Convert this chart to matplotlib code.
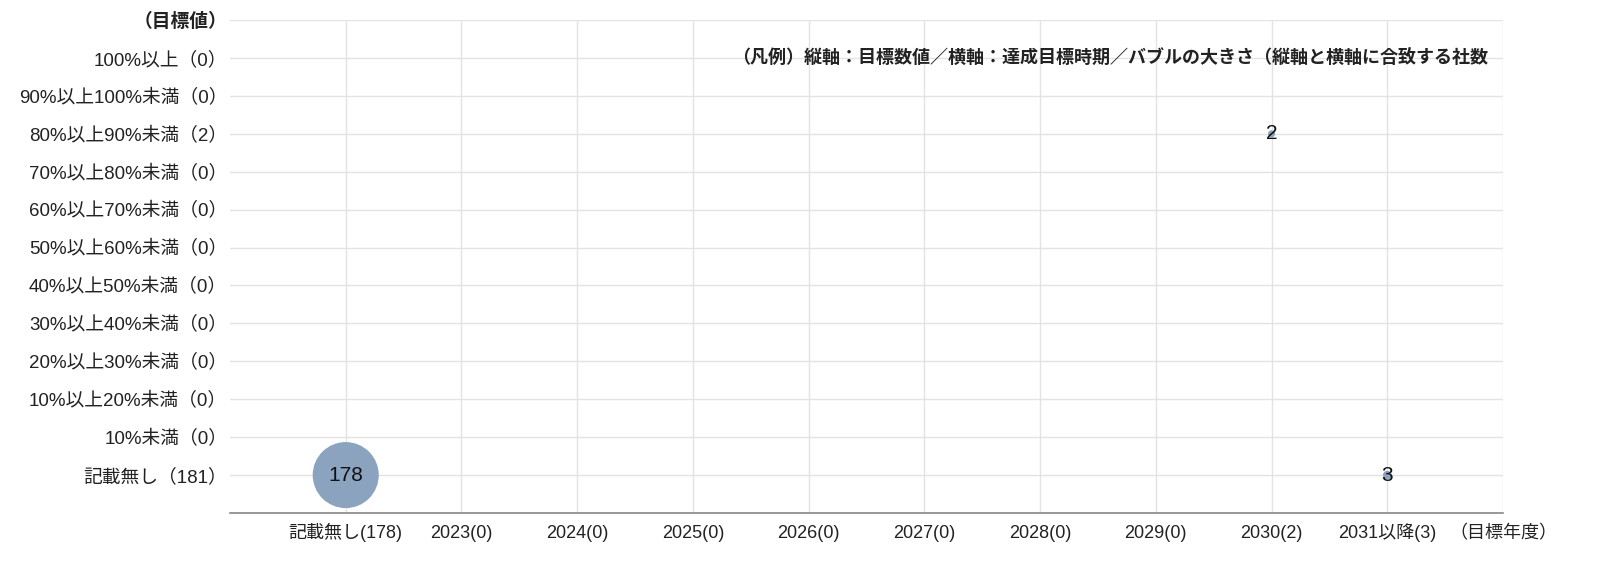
import matplotlib
matplotlib.use('Agg')
import matplotlib.pyplot as plt

plt.rcParams['font.family'] = ['Liberation Sans', 'Noto Sans CJK JP', 'DejaVu Sans']

# categories
y_labels = ['記載無し（181）', '10%未満（0）', '10%以上20%未満（0）', '20%以上30%未満（0）',
            '30%以上40%未満（0）', '40%以上50%未満（0）', '50%以上60%未満（0）',
            '60%以上70%未満（0）', '70%以上80%未満（0）', '80%以上90%未満（2）',
            '90%以上100%未満（0）', '100%以上（0）']
x_labels = ['記載無し(178)', '2023(0)', '2024(0)', '2025(0)', '2026(0)', '2027(0)',
            '2028(0)', '2029(0)', '2030(2)', '2031以降(3)']

# bubbles
bubble_x = ['記載無し(178)', '2030(2)', '2031以降(3)']
bubble_y = ['記載無し（181）', '80%以上90%未満（2）', '記載無し（181）']
bubble_n = [178, 2, 3]

legend_text = '（凡例）縦軸：目標数値／横軸：達成目標時期／バブルの大きさ（縦軸と横軸に合致する社数'

fig = plt.figure(figsize=(16, 5.64), dpi=100)
ax = fig.add_axes([230/1600, 1-513/564, (1503-230)/1600, (513-20)/564])

xs = [x_labels.index(v) for v in bubble_x]
ys = [y_labels.index(v) for v in bubble_y]
ax.scatter(xs, ys, s=[n*12.7 for n in bubble_n], color='#8ba3bf', zorder=3, linewidths=0)
for x, y, n in zip(xs, ys, bubble_n):
    ax.text(x, y, str(n), ha='center', va='center', fontsize=15, color='#111111', zorder=4)

ax.set_xlim(-1, len(x_labels))
ax.set_ylim(-1, len(y_labels))
ax.set_xticks(range(len(x_labels) + 1))
ax.set_xticklabels(x_labels + ['（目標年度）'])
ax.set_yticks(range(len(y_labels) + 1))
ax.set_yticklabels(y_labels + ['（目標値）'])
ax.get_yticklabels()[-1].set_fontweight('bold')
for lab in ax.get_xticklabels():
    lab.set_verticalalignment('baseline')

ax.tick_params(axis='x', length=0, labelsize=13, colors='#222222', pad=18)
ax.tick_params(axis='y', length=0, labelsize=13.5, colors='#222222', pad=2)
ax.grid(True, color='#e3e3e3', linewidth=1)
ax.set_axisbelow(True)
for side in ['left', 'right', 'top']:
    ax.spines[side].set_visible(False)
ax.spines['bottom'].set_color('#888888')
ax.spines['bottom'].set_linewidth(1.2)

ax.text(0.988, (11 + 1) / (len(y_labels) + 1), legend_text, transform=ax.transAxes,
        ha='right', va='center', fontsize=13, fontweight='bold', color='#222222')

fig.savefig('out.png', dpi=100, facecolor='white')
